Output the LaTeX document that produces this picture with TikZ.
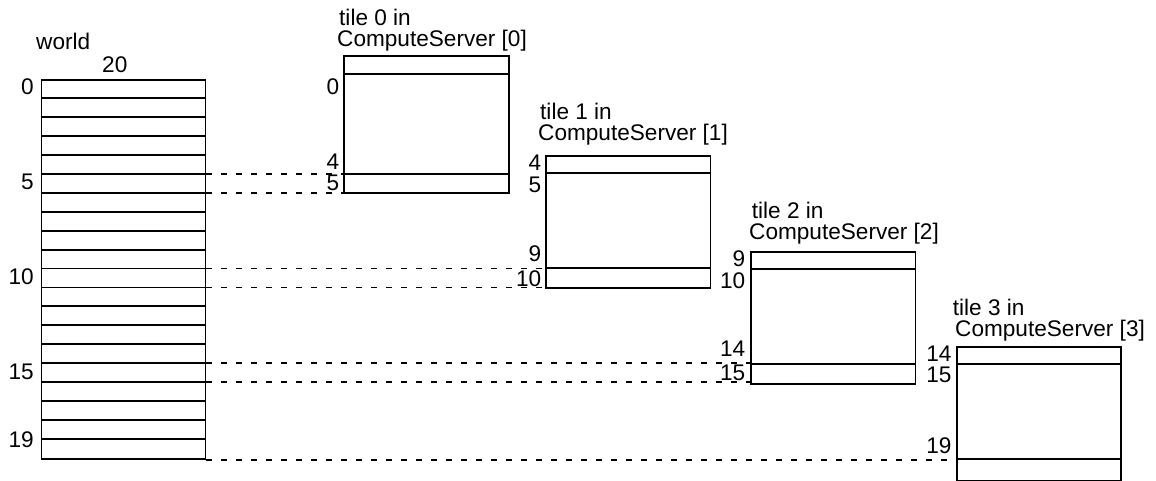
\documentclass[tikz,border=0pt]{standalone}
\usepackage{fontspec}
\setmainfont{Liberation Sans}
\begin{document}
\begin{tikzpicture}[x=1pt,y=-1pt,
  box/.style={draw, line width=1.9pt, inner sep=0pt, anchor=north west, minimum width=164.5pt},
  rule/.style={line width=1.9pt},
  halo/.style={line width=1.9pt, dash pattern=on 6pt off 9pt},
  lbl/.style={inner sep=0pt, font=\fontsize{22.6}{22.6}\selectfont},
  title/.style={lbl, anchor=base west},
  idx/.style={lbl, anchor=east}]
\useasboundingbox (0,0) rectangle (1156,481);

% global array: 20 rows
\node[box, minimum width=164pt, minimum height=379pt] (world) at (40.5,79) {};
\foreach \i in {1,...,19}
  \draw[rule] ([yshift=-\i*18.95pt]world.north west) -- ([yshift=-\i*18.95pt]world.north east);
\node[title] (wname) at (36,50) {world};
\node[title] (wsize) at (102,72.7) {20};
\node[idx] (w0)  at (34,87)    {0};
\node[idx] (w5)  at (34,182)   {5};
\node[idx] (w10) at (34,276.7) {10};
\node[idx] (w15) at (34,372)   {15};
\node[idx] (w19) at (34,440)   {19};

% row boundaries on the right side of the array
\coordinate (r5)  at ([yshift=-5*18.95pt]world.north east);
\coordinate (r6)  at ([yshift=-6*18.95pt]world.north east);
\coordinate (r10) at ([yshift=-10*18.95pt]world.north east);
\coordinate (r11) at ([yshift=-11*18.95pt]world.north east);
\coordinate (r15) at ([yshift=-15*18.95pt]world.north east);
\coordinate (r16) at ([yshift=-16*18.95pt]world.north east);
\coordinate (r20) at (world.south east);

% tile 0
\node[box, minimum height=137.3pt] (t0) at (343.3,55) {};
\draw[rule] (t0.west |- 0,73.7) -- (t0.east |- 0,73.7);
\draw[rule] (t0.west |- 0,173.7) -- (t0.east |- 0,173.7);
\node[title] (t0a) at (339,25.7) {tile 0 in};
\node[title] (t0b) at (337,47) {ComputeServer [0]};
\node[idx] (t0i0) at (339.3,87)    {0};
\node[idx] (t0i4) at (339.3,161.7) {4};
\node[idx] (t0i5) at (339.3,183)   {5};

% tile 1
\node[box, minimum height=131.7pt] (t1) at (545,155) {};
\draw[rule] (t1.west |- 0,172.7) -- (t1.east |- 0,172.7);
\draw[rule] (t1.west |- 0,267.7) -- (t1.east |- 0,267.7);
\node[title] (t1a) at (540,120) {tile 1 in};
\node[title] (t1b) at (538,141) {ComputeServer [1]};
\node[idx] (t1i4)  at (541.5,162.5) {4};
\node[idx] (t1i5)  at (541.5,185)   {5};
\node[idx] (t1i9)  at (541.5,254)   {9};
\node[idx] (t1i10) at (541.5,278.7) {10};

% tile 2
\node[box, minimum height=131.7pt] (t2) at (750,251) {};
\draw[rule] (t2.west |- 0,269) -- (t2.east |- 0,269);
\draw[rule] (t2.west |- 0,363.7) -- (t2.east |- 0,363.7);
\node[title] (t2a) at (751.7,218.3) {tile 2 in};
\node[title] (t2b) at (749,239.3) {ComputeServer [2]};
\node[idx] (t2i9)  at (745.5,259)   {9};
\node[idx] (t2i10) at (745.5,280.5) {10};
\node[idx] (t2i14) at (745.5,349)   {14};
\node[idx] (t2i15) at (745.5,373)   {15};

% tile 3
\node[box, minimum height=133.5pt] (t3) at (955.7,346) {};
\draw[rule] (t3.west |- 0,363.7) -- (t3.east |- 0,363.7);
\draw[rule] (t3.west |- 0,458.7) -- (t3.east |- 0,458.7);
\node[title] (t3a) at (952.7,315.7) {tile 3 in};
\node[title] (t3b) at (955,336.7) {ComputeServer [3]};
\node[idx] (t3i14) at (951.7,354) {14};
\node[idx] (t3i15) at (951.7,375) {15};
\node[idx] (t3i19) at (951.7,446) {19};

% halo correspondences
\draw[halo] (r5)  -- (r5  -| t0.west);
\draw[halo] (r6)  -- (r6  -| t0.west);
\draw[halo] (r10) -- (r10 -| t1.west);
\draw[halo] (r11) -- (r11 -| t1.west);
\draw[halo] (r15) -- (r15 -| t2.west);
\draw[halo] (r16) -- (r16 -| t2.west);
\draw[halo] (r20) -- (r20 -| t3.west);
\end{tikzpicture}
\end{document}
